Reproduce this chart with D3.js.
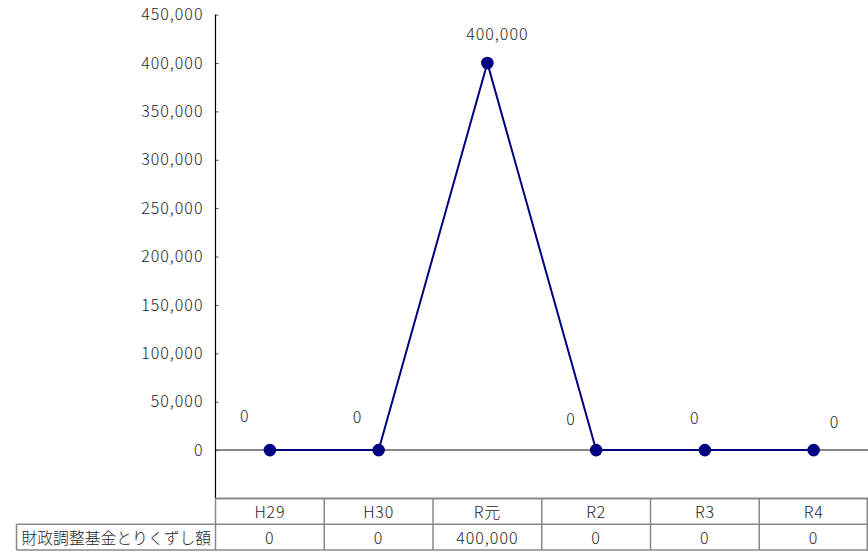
<!DOCTYPE html>
<html>
<head>
<meta charset="utf-8">
<script src="https://cdn.jsdelivr.net/npm/d3@7"></script>
<style>
  html, body { margin: 0; padding: 0; background: #fff; }
  svg { display: block; }
  text { font-family: "Noto Sans CJK JP", "DejaVu Sans", sans-serif; fill: #1e1e1e; font-weight: 300; }
</style>
</head>
<body>
<svg id="chart" width="868" height="552"></svg>
<script>
// ---- data ----
const categories = ["H29", "H30", "R元", "R2", "R3", "R4"];
const values = [0, 0, 400000, 0, 0, 0];
const seriesName = "財政調整基金とりくずし額";
const yTicks = [0, 50000, 100000, 150000, 200000, 250000, 300000, 350000, 400000, 450000];

// ---- layout ----
const plotLeft = 215.5, plotRight = 868, plotTop = 14.6, plotBottom = 498.5;
const rowH = 25.8;
const labelLeft = 16.5;

// label nudges relative to each point (visual placement, not data)
const labelNudge = [[-25, -35], [-21, -34], [10, -30], [-25, -32], [-10, -33], [21, -29]];

const svg = d3.select("#chart");
const fmt = d3.format(",");

const x = d3.scaleBand().domain(categories).range([plotLeft, plotRight]).padding(0);
const y = d3.scaleLinear().domain([-50000, 450000]).range([plotBottom, plotTop]);

// zero line
svg.append("line")
  .attr("x1", plotLeft).attr("x2", plotRight)
  .attr("y1", y(0)).attr("y2", y(0))
  .attr("stroke", "#888").attr("stroke-width", 2);

// y axis
const yAxis = d3.axisLeft(y).tickValues(yTicks).tickFormat(fmt).tickSizeInner(-3).tickSizeOuter(0).tickPadding(12);
const gy = svg.append("g").attr("transform", `translate(${plotLeft},0)`).call(yAxis);
gy.select(".domain").remove();
gy.selectAll(".tick line").attr("stroke", "#555");
gy.selectAll(".tick text").attr("font-size", 16).attr("letter-spacing", 1.0).style("fill", "#1e1e1e")
  .attr("font-family", "'Noto Sans CJK JP', sans-serif").attr("font-weight", 300);
svg.append("line")
  .attr("x1", plotLeft).attr("x2", plotLeft)
  .attr("y1", plotTop).attr("y2", plotBottom)
  .attr("stroke", "#000").attr("stroke-width", 1.2);

// line
const line = d3.line().x((d, i) => x(categories[i]) + x.bandwidth() / 2).y(d => y(d));
svg.append("path").datum(values)
  .attr("d", line).attr("fill", "none")
  .attr("stroke", "#000080").attr("stroke-width", 2);

// markers
svg.selectAll("circle.pt").data(values).join("circle")
  .attr("class", "pt")
  .attr("cx", (d, i) => x(categories[i]) + x.bandwidth() / 2)
  .attr("cy", d => y(d))
  .attr("r", 6.3)
  .attr("fill", "#000080");

// data labels
svg.selectAll("text.dl").data(values).join("text")
  .attr("class", "dl")
  .attr("x", (d, i) => x(categories[i]) + x.bandwidth() / 2 + labelNudge[i][0])
  .attr("y", (d, i) => y(d) + labelNudge[i][1])
  .attr("text-anchor", "middle").attr("dominant-baseline", "central")
  .attr("font-size", 16).attr("letter-spacing", 1.0)
  .text(d => fmt(d));

// ---- data table ----
const tbl = svg.append("g");
const gridColor = "#888";
const r1 = plotBottom, r2 = plotBottom + rowH, r3 = plotBottom + 2 * rowH;
tbl.append("line").attr("x1", plotLeft).attr("x2", plotRight).attr("y1", r1).attr("y2", r1)
  .attr("stroke", gridColor).attr("stroke-width", 2);
tbl.append("line").attr("x1", labelLeft).attr("x2", plotRight).attr("y1", r2).attr("y2", r2)
  .attr("stroke", gridColor).attr("stroke-width", 1.5);
tbl.append("line").attr("x1", labelLeft).attr("x2", plotRight).attr("y1", r3).attr("y2", r3)
  .attr("stroke", gridColor).attr("stroke-width", 1.5);
tbl.append("line").attr("x1", labelLeft).attr("x2", labelLeft).attr("y1", r2).attr("y2", r3)
  .attr("stroke", gridColor).attr("stroke-width", 1.5);
const colEdges = categories.map(c => x(c)).concat([plotRight - 0.75]);
tbl.selectAll("line.v").data(colEdges).join("line").attr("class", "v")
  .attr("x1", d => d).attr("x2", d => d).attr("y1", r1).attr("y2", r3)
  .attr("stroke", gridColor).attr("stroke-width", 1.5);

tbl.selectAll("text.hd").data(categories).join("text").attr("class", "hd")
  .attr("x", d => x(d) + x.bandwidth() / 2)
  .attr("y", (r1 + r2) / 2)
  .attr("text-anchor", "middle").attr("dominant-baseline", "central")
  .attr("font-size", 16).attr("letter-spacing", 0.8)
  .text(d => d);
tbl.selectAll("text.vl").data(values).join("text").attr("class", "vl")
  .attr("x", (d, i) => x(categories[i]) + x.bandwidth() / 2)
  .attr("y", (r2 + r3) / 2)
  .attr("text-anchor", "middle").attr("dominant-baseline", "central")
  .attr("font-size", 16).attr("letter-spacing", 1.0)
  .text(d => fmt(d));
tbl.append("text")
  .attr("x", labelLeft + 5).attr("y", (r2 + r3) / 2)
  .attr("dominant-baseline", "central")
  .attr("font-size", 15.8)
  .text(seriesName);
</script>
</body>
</html>
